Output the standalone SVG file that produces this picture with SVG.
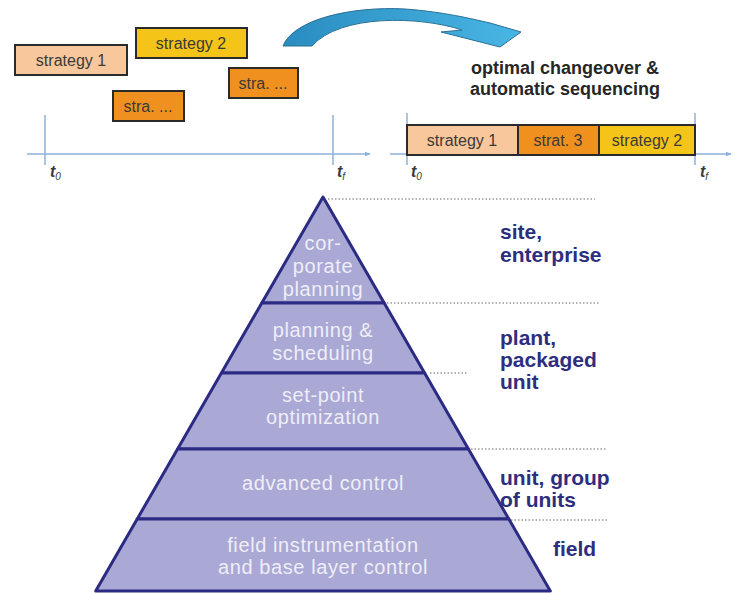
<svg xmlns="http://www.w3.org/2000/svg" width="733" height="593" viewBox="0 0 733 593">
<style>
.box{stroke:#2a2a2a;stroke-width:2}
.bt{font-family:"Liberation Sans",Arial,sans-serif;font-size:16px;fill:#3a3a3a;text-anchor:middle}
.axis{stroke:#8cb0dc;stroke-width:1.5;fill:none}
.tl{font-family:"Liberation Sans",Arial,sans-serif;font-style:italic;font-weight:bold;font-size:16px;fill:#3a3a3a}
.ts{font-size:10px;font-weight:normal}
.hd{font-family:"Liberation Sans",Arial,sans-serif;font-weight:bold;font-size:18px;fill:#262626;text-anchor:middle}
.sec{fill:#aaa8d4;stroke:#2b2b84;stroke-width:3;stroke-linejoin:round}
.pt{font-family:"Liberation Sans",Arial,sans-serif;font-size:20px;letter-spacing:0.6px;fill:#eeeef8;text-anchor:middle}
.lv{font-family:"Liberation Sans",Arial,sans-serif;font-weight:bold;font-size:21px;fill:#2e2e80}
.dot{stroke:#9a9a9a;stroke-width:1.3;stroke-dasharray:1.5 2;fill:none}
</style>
<defs>
<marker id="ah" viewBox="0 0 10 10" refX="9" refY="5" markerWidth="6" markerHeight="6" orient="auto" markerUnits="userSpaceOnUse">
<path d="M0,1 L10,5 L0,9 Z" fill="#8cb0dc"/>
</marker>
<linearGradient id="ag" x1="0" y1="0" x2="1" y2="0">
<stop offset="0" stop-color="#2a8cc0"/>
<stop offset="1" stop-color="#48b6e4"/>
</linearGradient>
</defs>

<!-- curved arrow -->
<g id="curved-arrow">
<path d="M283 46 C293 20 350 6 405 9 C445 12 472 19 490 23 L521 32 L500 47 L441 32 L462 30 C420 16 340 14 312 46 Z" fill="url(#ag)" stroke="#2a6f96" stroke-width="1"/>
</g>

<!-- left timeline -->
<g id="timeline-left">
<line class="axis" x1="27" y1="154" x2="370" y2="154" marker-end="url(#ah)"/>
<line class="axis" x1="45" y1="115" x2="45" y2="165"/>
<line class="axis" x1="333" y1="115" x2="333" y2="165"/>
<text class="tl" x="50" y="177">t<tspan class="ts" dy="3">0</tspan></text>
<text class="tl" x="337" y="177">t<tspan class="ts" dy="3">f</tspan></text>
</g>
<g id="box-strategy1"><rect class="box" x="15" y="45" width="112" height="30" fill="#f8c89c"/><text class="bt" x="71" y="66">strategy 1</text></g>
<g id="box-strategy2"><rect class="box" x="136" y="28" width="111" height="30" fill="#f5c418"/><text class="bt" x="191" y="49">strategy 2</text></g>
<g id="box-stra-a"><rect class="box" x="113" y="91" width="71" height="30" fill="#f0901e"/><text class="bt" x="148" y="112">stra. ...</text></g>
<g id="box-stra-b"><rect class="box" x="229" y="68" width="69" height="30" fill="#f0901e"/><text class="bt" x="263" y="89">stra. ...</text></g>

<!-- right timeline -->
<g id="heading"><text class="hd" x="565" y="74">optimal changeover &amp;</text><text class="hd" x="565" y="95">automatic sequencing</text></g>
<g id="timeline-right">
<line class="axis" x1="390" y1="154" x2="731" y2="154" marker-end="url(#ah)"/>
<line class="axis" x1="407" y1="113" x2="407" y2="165"/>
<line class="axis" x1="695" y1="113" x2="695" y2="165"/>
<text class="tl" x="411" y="177">t<tspan class="ts" dy="3">0</tspan></text>
<text class="tl" x="700" y="177">t<tspan class="ts" dy="3">f</tspan></text>
</g>
<g id="bar-strategy1"><rect class="box" x="407" y="125" width="111" height="30" fill="#f8c89c"/><text class="bt" x="462" y="146">strategy 1</text></g>
<g id="bar-strat3"><rect class="box" x="518" y="125" width="81" height="30" fill="#f0901e"/><text class="bt" x="558" y="146">strat. 3</text></g>
<g id="bar-strategy2"><rect class="box" x="599" y="125" width="96" height="30" fill="#f5c418"/><text class="bt" x="647" y="146">strategy 2</text></g>

<!-- dotted guide lines -->
<g id="connectors">
<line class="dot" x1="328" y1="199" x2="595" y2="199"/>
<line class="dot" x1="387" y1="303" x2="600" y2="303"/>
<line class="dot" x1="430" y1="373" x2="467" y2="373"/>
<line class="dot" x1="471" y1="449" x2="607" y2="449"/>
<line class="dot" x1="511" y1="520" x2="607" y2="520"/>
</g>

<!-- pyramid -->
<g id="layer-corporate"><polygon class="sec" points="323,197 384.2,303 261.8,303"/>
<text class="pt" x="323" y="250">cor-</text><text class="pt" x="323" y="273">porate</text><text class="pt" x="323" y="296">planning</text></g>
<g id="layer-planning"><polygon class="sec" points="261.8,303 384.2,303 424.6,373 221.4,373"/>
<text class="pt" x="323" y="337">planning &amp;</text><text class="pt" x="323" y="360">scheduling</text></g>
<g id="layer-setpoint"><polygon class="sec" points="221.4,373 424.6,373 468.4,449 177.6,449"/>
<text class="pt" x="323" y="402">set-point</text><text class="pt" x="323" y="424">optimization</text></g>
<g id="layer-advanced"><polygon class="sec" points="177.6,449 468.4,449 508.8,519 137.2,519"/>
<text class="pt" x="323" y="490">advanced control</text></g>
<g id="layer-field"><polygon class="sec" points="137.2,519 508.8,519 550.3,591 95.7,591"/>
<text class="pt" x="323" y="552">field instrumentation</text><text class="pt" x="323" y="574">and base layer control</text></g>

<!-- level labels -->
<g id="label-site"><text class="lv" x="500" y="239">site,</text><text class="lv" x="500" y="262">enterprise</text></g>
<g id="label-plant"><text class="lv" x="500" y="345">plant,</text><text class="lv" x="500" y="367">packaged</text><text class="lv" x="500" y="389">unit</text></g>
<g id="label-unit"><text class="lv" x="500" y="485">unit, group</text><text class="lv" x="500" y="507">of units</text></g>
<g id="label-field"><text class="lv" x="553" y="556">field</text></g>
</svg>
